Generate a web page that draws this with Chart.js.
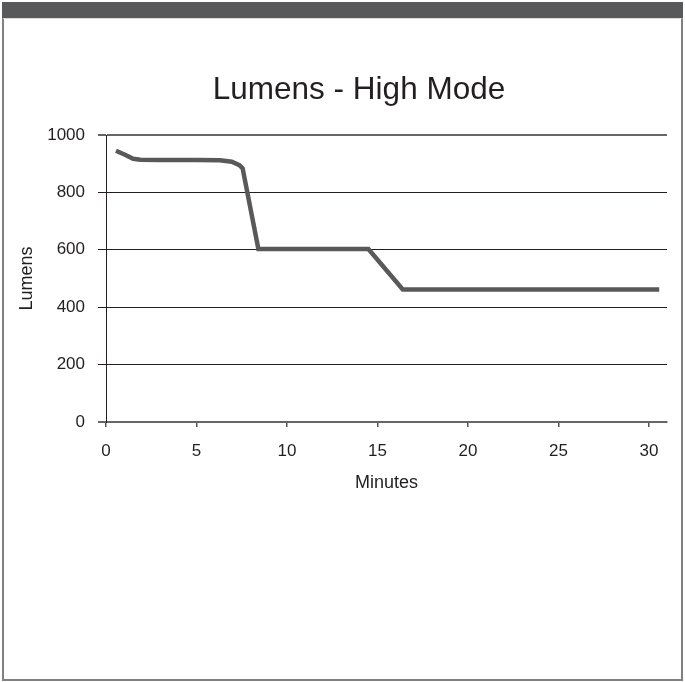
<!DOCTYPE html>
<html>
<head>
<meta charset="utf-8">
<script src="https://cdn.jsdelivr.net/npm/chart.js@4.4.1/dist/chart.umd.min.js"></script>
<style>
  html, body { margin: 0; padding: 0; background: #fff; }
  #topbar { position: absolute; left: 2px; top: 2px; width: 681px; height: 16px; background: #58595b; }
  #frame { position: absolute; left: 2px; top: 18px; width: 681px; height: 663px; box-sizing: border-box;
           border: 2px solid #808080; border-top: 1px solid #dcdcdc; }
  #chart { position: absolute; left: 0; top: 0; }
</style>
</head>
<body>
<div id="topbar"></div>
<div id="frame"></div>
<canvas id="chart" width="685" height="682"></canvas>
<script>
const chartTitle = "Lumens - High Mode";
const xTitle = "Minutes";
const yTitle = "Lumens";
const minutes = [0.55, 1.05, 1.5, 1.9, 3, 4, 5, 6.3, 6.95, 7.37, 7.55, 8.42, 14.5, 16.4, 30.57];
const lumens  = [945, 931, 917, 914, 913, 913, 913, 912, 907, 895, 884, 603, 603, 462, 462];
const xTicks = [0, 5, 10, 15, 20, 25, 30];
const yTicks = [0, 200, 400, 600, 800, 1000];

const textColor = "#231f20";
const fontFamily = "'Liberation Sans', Arial, sans-serif";

// title drawn centred over the frame, not over the canvas
const titlePlugin = {
  id: "frameTitle",
  afterDraw(chart) {
    const ctx = chart.ctx;
    ctx.save();
    ctx.font = "31.5px " + fontFamily;
    ctx.fillStyle = textColor;
    ctx.textAlign = "center";
    ctx.textBaseline = "middle";
    ctx.fillText(chartTitle, 359, 90);
    ctx.restore();
  }
};

new Chart(document.getElementById("chart"), {
  type: "line",
  data: {
    datasets: [{
      label: yTitle,
      data: minutes.map((m, i) => ({ x: m, y: lumens[i] })),
      borderColor: "#595959",
      borderWidth: 4.5,
      pointRadius: 0,
      tension: 0,
      fill: false
    }]
  },
  options: {
    responsive: false,
    animation: false,
    layout: { padding: { top: 135, left: 0, right: 18, bottom: 180 } },
    plugins: {
      legend: { display: false },
      tooltip: { enabled: false }
    },
    scales: {
      x: {
        type: "linear",
        min: 0,
        max: 31,
        afterBuildTicks: (scale) => { scale.ticks = xTicks.map(v => ({ value: v })); },
        afterFit: (scale) => { scale.height = 80; },
        ticks: {
          padding: 14,
          color: textColor,
          font: { family: fontFamily, size: 17 },
          callback: (value) => String(value)
        },
        grid: { drawOnChartArea: false, drawTicks: true, tickLength: 5, color: "#555", lineWidth: 1.5 },
        border: { display: true, color: "#666", width: 2 },
        title: {
          display: true,
          text: xTitle,
          color: textColor,
          font: { family: fontFamily, size: 18 },
          padding: { top: 0, bottom: 8 }
        }
      },
      y: {
        min: 0,
        max: 1000,
        afterBuildTicks: (scale) => { scale.ticks = yTicks.map(v => ({ value: v })); },
        afterFit: (scale) => { scale.width = 106; },
        ticks: {
          padding: 13,
          color: textColor,
          font: { family: fontFamily, size: 17 },
          callback: (value) => String(value)
        },
        grid: {
          tickLength: 8,
          color: (c) => (c.tick && (c.tick.value === 1000 || c.tick.value === 0)) ? "#666" : "#231f20",
          lineWidth: (c) => (c.tick && (c.tick.value === 1000 || c.tick.value === 0)) ? 2 : 1
        },
        border: { display: true, color: "#231f20", width: 1 },
        title: {
          display: true,
          text: yTitle,
          color: textColor,
          font: { family: fontFamily, size: 18 },
          padding: { top: 16, bottom: 0 }
        }
      }
    }
  },
  plugins: [titlePlugin]
});
</script>
</body>
</html>
